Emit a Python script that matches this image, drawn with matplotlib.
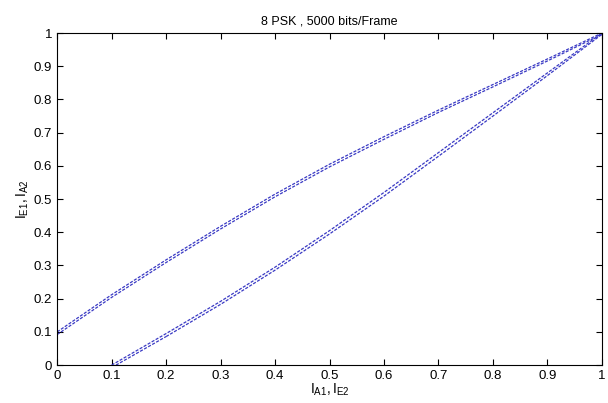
import matplotlib
matplotlib.use("Agg")
import matplotlib.pyplot as plt
import numpy as np

plt.rcParams['font.family'] = ['Liberation Sans', 'DejaVu Sans']
plt.rcParams['mathtext.fontset'] = 'custom'
plt.rcParams['mathtext.rm'] = 'Liberation Sans'
plt.rcParams['mathtext.it'] = 'Liberation Sans'

# decoder 1 EXIT curve: x = I_A1, y = I_E1
up_x = [0.0, 0.1, 0.2, 0.3, 0.4, 0.5, 0.6, 0.7, 0.8, 0.9, 1.0]
up_y = [0.100, 0.212, 0.317, 0.418, 0.515, 0.605, 0.688, 0.768, 0.845, 0.922, 1.0]
# second run drawn just beside it
up_y_b = [0.092, 0.204, 0.309, 0.410, 0.507, 0.597, 0.680, 0.761, 0.838, 0.916, 0.996]

# decoder 2 EXIT curve: x = I_E2, y = I_A2
lo_x = [0.1, 0.2, 0.3, 0.4, 0.5, 0.6, 0.7, 0.8, 0.9, 1.0]
lo_y = [0.0, 0.095, 0.192, 0.295, 0.405, 0.520, 0.640, 0.760, 0.880, 1.0]
lo_y_b = [0.0, 0.086, 0.183, 0.286, 0.395, 0.509, 0.629, 0.750, 0.872, 0.996]

fig = plt.figure(figsize=(6.08, 4.03), dpi=100)
ax = fig.add_axes([0.094, 0.094, 0.896, 0.824])

blue = '#3a3ac4'
style = dict(color=blue, lw=0.9, dashes=(2.5, 1.2))
ax.plot(up_x, up_y, '--', **style)
ax.plot(up_x, up_y_b, '--', **style)
ax.plot(lo_x, lo_y, '--', **style)
ax.plot(lo_x[1:], lo_y_b[1:], '--', **style)
ax.plot([lo_x[0] + 0.008, lo_x[1]], [lo_y_b[0], lo_y_b[1]], '--', **style)

ax.set_xlim(0, 1)
ax.set_ylim(0, 1)
ticks = np.round(np.arange(0, 1.01, 0.1), 1)
labels = ['0'] + [f'{t:g}' for t in ticks[1:-1]] + ['1']
ax.set_xticks(ticks)
ax.set_yticks(ticks)
ax.set_xticklabels(labels)
ax.set_yticklabels(labels)
ax.tick_params(direction='in', top=True, right=True, length=4, labelsize=9.5, width=0.8)
for s in ax.spines.values():
    s.set_linewidth(0.8)

ax.set_title('8 PSK , 5000 bits/Frame', fontsize=9, pad=6)
ax.set_xlabel(r'$\mathregular{I_{A1}, I_{E2}}$', fontsize=10, labelpad=0)
ax.set_ylabel(r'$\mathregular{I_{E1}, I_{A2}}$', fontsize=10, labelpad=2)

fig.savefig('out.png', dpi=100)
